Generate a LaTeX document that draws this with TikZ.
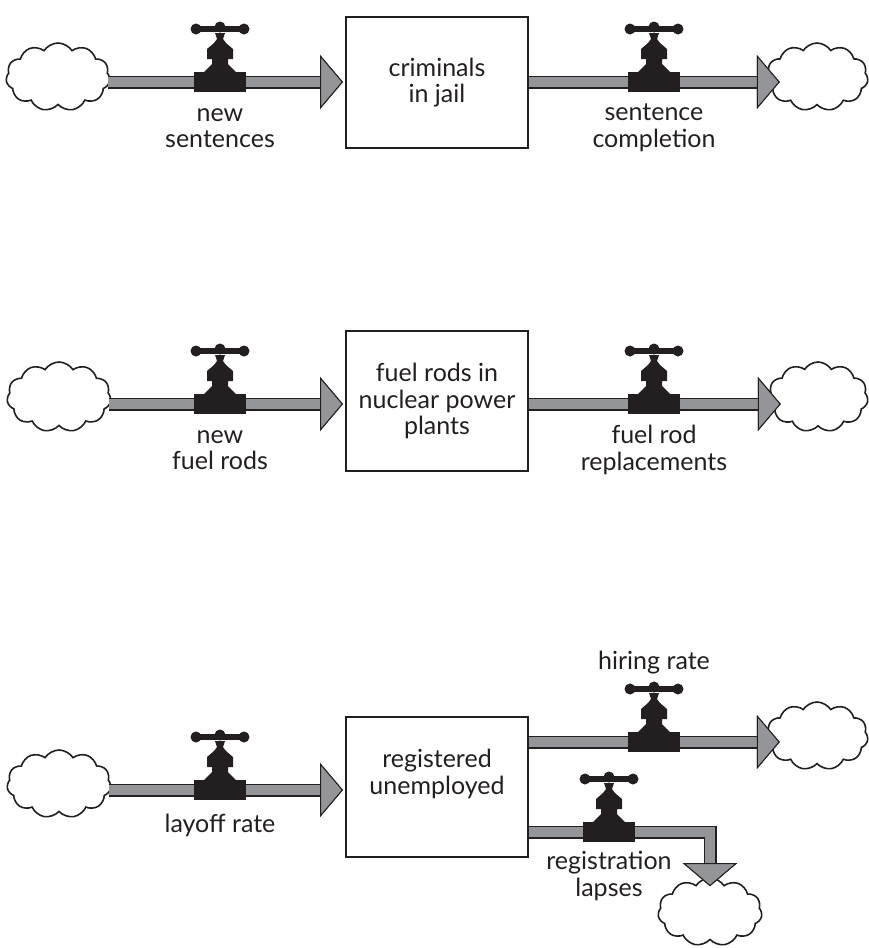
\documentclass[tikz,border=0pt]{standalone}
\usepackage{fontspec}
\setmainfont{Lato}
\usepackage{tikz}
\usetikzlibrary{positioning}
\usetikzlibrary{shapes.symbols,calc,arrows.meta}
\definecolor{ink}{HTML}{231F20}
\definecolor{pipegray}{HTML}{939598}
\tikzset{
	stock/.style ={rectangle, draw=ink, line width=2pt, fill=white,
	  minimum width=182pt, minimum height=140pt, align=center, text=ink,
	  font=\fontsize{25}{26.5}\selectfont},
	puff/.style = {cloud, cloud puffs=11, cloud puff arc=115, cloud ignores aspect,
	  draw=ink, line width=1.6pt, fill=white, minimum width=104pt, minimum height=68pt},
	flowlabel/.style = {align=center, text=ink, inner sep=0pt,
	  font=\fontsize{25}{26.5}\selectfont},
	head/.tip = {Triangle[length=23pt, width=54pt, line width=1pt, color=ink, fill=pipegray]},
	pipe/.style = {line width=13pt, draw=ink, -head,
	  postaction={draw=pipegray, line width=10.6pt, -head}},
	valve/.pic = {
	  \fill[ink] (-26,-10) rectangle (26,10);
	  \fill[ink] (-16,-10) -- (-8,-18) -- (-8,-23) -- (-13,-23) -- (-13,-33) -- (-6,-39)
	    -- (-3,-43) -- (-5,-49) -- (5,-49) -- (3,-43) -- (6,-39) -- (13,-33)
	    -- (13,-23) -- (8,-23) -- (8,-18) -- (16,-10) -- cycle;
	  \draw[ink, line width=6.5pt] (-24,-53) -- (24,-53);
	  \fill[ink] (-24,-53) circle (5.5pt) (24,-53) circle (5.5pt) (0,-55) circle (5.5pt);
	},
}
\begin{document}
\begin{tikzpicture}[x=1pt, y=-1pt]
	\useasboundingbox (0,0) rectangle (868,948);
	% stocks
	\node (jail) [stock, minimum height=131pt] at (437,82.5) {criminals\\in jail};
	\node (rods) [stock] at (437,401) {fuel rods in\\nuclear power\\plants};
	\node (unemp) [stock, text depth=30pt] at (437,787) {registered\\unemployed};
	% sources and sinks
	\node (src1) [puff] at (58,77) {};
	\node (snk1) [puff, minimum width=102pt] at (817,77) {};
	\node (src2) [puff, minimum height=70pt] at (59,397) {};
	\node (snk2) [puff, minimum width=100pt, minimum height=70pt] at (818,397) {};
	\node (src3) [puff] at (59,784) {};
	\node (snk3) [puff, minimum width=102pt] at (817,736) {};
	\node (snk4) [puff] at (710,912) {};
	% valves
	\coordinate (v1) at (220,82);
	\coordinate (v2) at (654,82);
	\coordinate (v3) at (220,404);
	\coordinate (v4) at (654,404);
	\coordinate (v5) at (220,790);
	\coordinate (v6) at (654,742);
	\coordinate (v7) at (609,832);
	% flows
	\draw[pipe, shorten <=-2pt, shorten >=2pt] (src1.east |- v1) -- (jail.west |- v1);
	\draw[pipe, shorten >=-14pt] (jail.east |- v2) -- (snk1.west |- v2);
	\draw[pipe, shorten <=-2pt, shorten >=2pt] (src2.east |- v3) -- (rods.west |- v3);
	\draw[pipe, shorten >=-13pt] (rods.east |- v4) -- (snk2.west |- v4);
	\draw[pipe, shorten <=-2pt, shorten >=2pt] (src3.east |- v5) -- (unemp.west |- v5);
	\draw[pipe, shorten >=-14pt] (unemp.east |- v6) -- (snk3.west |- v6);
	\draw[pipe, shorten >=-9pt] (unemp.east |- v7) -| (snk4.north);
	\foreach \v in {v1,v2,v3,v4,v5,v6,v7}
	  \path (\v) pic {valve};
	% flow names
	\node (newsent) [flowlabel] at ($(v1)+(0,46)$) {new\\sentences};
	\node (compl) [flowlabel] at ($(v2)+(0,46)$) {sentence\\completion};
	\node (newrods) [flowlabel] at ($(v3)+(0,46)$) {new\\fuel rods};
	\node (repl) [flowlabel] at ($(v4)+(0,46)$) {fuel rod\\replacements};
	\node (layoff) [flowlabel] at ($(v5)+(0,35)$) {layoff rate};
	\node (hiring) [flowlabel] at ($(v6)+(0,-79)$) {hiring rate};
	\node (lapses) [flowlabel] at ($(v7)+(0,44)$) {registration\\lapses};
\end{tikzpicture}
\end{document}
